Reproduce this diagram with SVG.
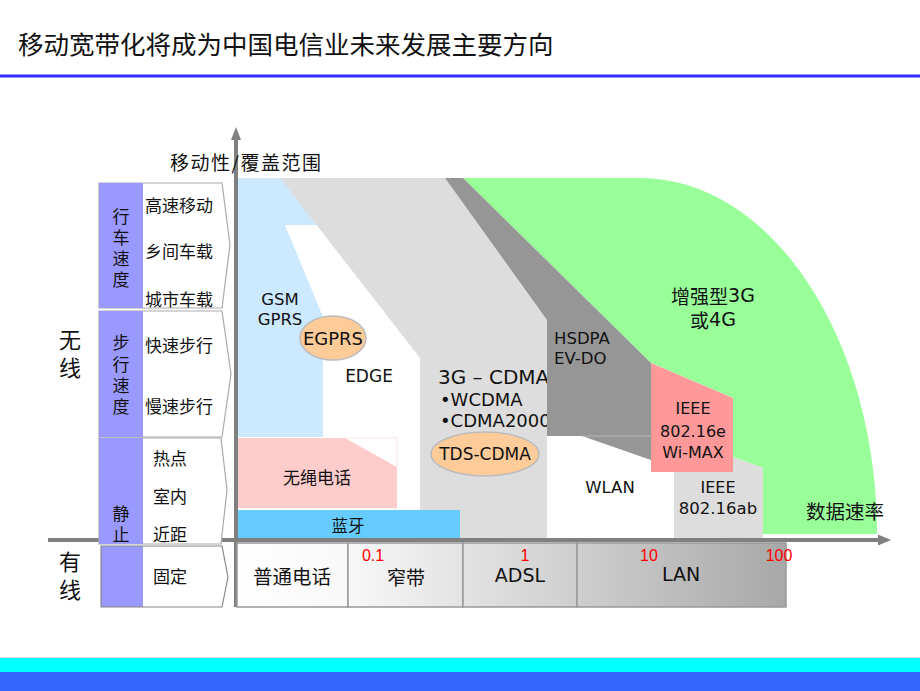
<svg xmlns="http://www.w3.org/2000/svg" width="920" height="691" viewBox="0 0 920 691">
<defs>
<style>
.cjk{font-family:"Noto Sans CJK SC","Noto Sans",sans-serif;fill:#111;dominant-baseline:central}
.vert{font-family:"Noto Sans CJK SC","Noto Sans",sans-serif;fill:#111;writing-mode:vertical-rl}
.lat{font-family:"DejaVu Sans","Liberation Sans",sans-serif;fill:#111;dominant-baseline:central}
.red{font-family:"Liberation Sans","DejaVu Sans",sans-serif;fill:#FF0000;font-size:16px;dominant-baseline:central;text-anchor:middle}
.mid{text-anchor:middle}
.row{stroke:#AAAAAA;stroke-width:1.2;fill:#FFFFFF}
.purple{fill:#9999FF}
.box{stroke:#999999;stroke-width:1.5;fill:url(#bargrad)}
.axis{stroke:#808080;stroke-width:4;fill:none}
.oval{fill:#FFCC99;stroke:#BBBBBB;stroke-width:1.5}
</style>
<linearGradient id="bargrad" gradientUnits="userSpaceOnUse" x1="237" y1="0" x2="786" y2="0">
<stop offset="0" stop-color="#FFFFFF"/>
<stop offset="0.2" stop-color="#F8F8F8"/>
<stop offset="1" stop-color="#A8A8A8"/>
</linearGradient>
</defs>
<rect width="920" height="691" fill="#FFFFFF"/>

<g id="title">
<text class="cjk" x="18" y="42" font-size="25.5">移动宽带化将成为中国电信业未来发展主要方向</text>
<line x1="0" y1="76" x2="920" y2="76" stroke="#2F2FFF" stroke-width="3"/>
</g>

<g id="footer">
<line x1="0" y1="657.5" x2="920" y2="657.5" stroke="#DDDDDD" stroke-width="1"/>
<rect x="0" y="658" width="920" height="14" fill="#00FFFF"/>
<rect x="0" y="672" width="920" height="19" fill="#3366FF"/>
</g>

<g id="axes">
<line class="axis" x1="236" y1="138" x2="236" y2="607" stroke-width="3.5"/>
<polygon points="236,127 231,140 241,140" fill="#808080"/>
<line class="axis" x1="48" y1="540" x2="880" y2="540"/>
<polygon points="891,540 878,534.5 878,545.5" fill="#808080"/>
</g>

<g id="regions">
<g id="gsm"><rect x="238" y="178" width="85" height="259" fill="#CCE9FF"/></g>
<g id="edge-area"><polygon points="285,225 318,225 420,358 420,437 323,437 323,317" fill="#FFFFFF"/></g>
<g id="cdma3g"><polygon points="280,178 445,178 547,320 547,538 420,538 420,358" fill="#DDDDDD"/></g>
<g id="cordless">
<polygon points="238,438 345,438 397,467 397,508 238,508" fill="#FFCCCC"/>
<polyline points="345,438 397,438 397,467" fill="none" stroke="#FBE3E3" stroke-width="1"/>
</g>
<g id="bluetooth"><rect x="238" y="510" width="222" height="28" fill="#66CCFF"/></g>
<g id="cdma-labels">
<text class="lat" x="438" y="377" font-size="20">3G – CDMA</text>
<text class="lat" x="440" y="399" font-size="18">•WCDMA</text>
<text class="lat" x="440" y="420" font-size="18">•CDMA2000</text>
</g>
<g id="enhanced"><path d="M463,178 L640,178 A237,356 0 0 1 877,534 L763,534 L763,468 L733,457 L733,398 L651,363 Z" fill="#99FF99"/></g>
<g id="hsdpa">
<polygon points="445,178 463,178 651,363 651,460 582,436 547,436 547,320" fill="#969696"/>
<line x1="582" y1="436" x2="651" y2="436" stroke="#B8B8B8" stroke-width="1"/>
</g>
<g id="wimax"><polygon points="651,363 733,398 733,472 651,472" fill="#FF9999"/></g>
<g id="ieee-ab"><polygon points="674,472 733,472 733,457 763,468 763,538 674,538" fill="#DDDDDD"/></g>
</g>

<g id="region-labels">
<text class="lat mid" x="280" y="299" font-size="16.5">GSM</text>
<text class="lat mid" x="280" y="319" font-size="16.5">GPRS</text>
<g id="egprs">
<ellipse class="oval" cx="333" cy="338" rx="33" ry="22"/>
<text class="lat mid" x="333" y="338" font-size="18">EGPRS</text>
</g>
<text class="lat mid" x="369" y="376" font-size="17">EDGE</text>
<g id="tds">
<ellipse class="oval" cx="485" cy="454" rx="54" ry="22"/>
<text class="lat mid" x="485" y="454" font-size="17">TDS-CDMA</text>
</g>
<text class="lat" x="554" y="338" font-size="16.5">HSDPA</text>
<text class="lat" x="554" y="358" font-size="16.5">EV-DO</text>
<text class="cjk mid" font-size="19"><tspan x="713" y="295">增强型<tspan class="lat">3G</tspan></tspan><tspan x="713" y="319">或<tspan class="lat">4G</tspan></tspan></text>
<text class="lat mid" x="693" y="408" font-size="16">IEEE</text>
<text class="lat mid" x="693" y="431" font-size="16">802.16e</text>
<text class="lat mid" x="693" y="452" font-size="16">Wi-MAX</text>
<text class="lat mid" x="610" y="487" font-size="16.5">WLAN</text>
<text class="lat mid" x="718" y="487" font-size="16">IEEE</text>
<text class="lat mid" x="718" y="508" font-size="16.5">802.16ab</text>
<text class="cjk" x="806" y="510" font-size="19.5">数据速率</text>
<text class="cjk mid" x="317" y="476" font-size="17">无绳电话</text>
<text class="cjk mid" x="348" y="525" font-size="16.5">蓝牙</text>
<text class="cjk" x="170" y="161" font-size="19" letter-spacing="1.5">移动性/覆盖范围</text>
</g>

<g id="speed-bar">
<g id="pots"><rect class="box" x="237" y="543" width="111" height="64"/><text class="cjk mid" x="292" y="575" font-size="19.5">普通电话</text></g>
<g id="narrow"><rect class="box" x="348" y="543" width="115" height="64"/><text class="cjk mid" x="406" y="576" font-size="19">窄带</text></g>
<g id="adsl"><rect class="box" x="463" y="543" width="114" height="64"/><text class="lat mid" x="520" y="575" font-size="19">ADSL</text></g>
<g id="lan"><rect class="box" x="577" y="543" width="209" height="64"/><text class="lat mid" x="681" y="574" font-size="19">LAN</text></g>
<text class="red" x="373" y="555">0.1</text>
<text class="red" x="525" y="555">1</text>
<text class="red" x="649" y="555">10</text>
<text class="red" x="779" y="555">100</text>
</g>

<g id="left-panel">
<text class="vert" x="70" y="329" font-size="22" letter-spacing="6">无线</text>
<text class="vert" x="70" y="551" font-size="22" letter-spacing="6">有线</text>
<g id="row-vehicle">
<polygon class="row" points="99,183 222,183 230,245 222,308 99,308"/>
<rect class="purple" x="99" y="183" width="44" height="125"/>
<text class="vert" x="121" y="208.5" font-size="17" letter-spacing="4">行车速度</text>
<text class="cjk" x="145" y="204" font-size="17">高速移动</text>
<text class="cjk" x="145" y="250" font-size="17">乡间车载</text>
<text class="cjk" x="145" y="298" font-size="17">城市车载</text>
</g>
<g id="row-walk">
<polygon class="row" points="99,311 222,311 231,374 222,437 99,437"/>
<rect class="purple" x="99" y="311" width="44" height="126"/>
<text class="vert" x="121" y="334.5" font-size="17" letter-spacing="4.3">步行速度</text>
<text class="cjk" x="145" y="344" font-size="17">快速步行</text>
<text class="cjk" x="145" y="405" font-size="17">慢速步行</text>
</g>
<g id="row-static">
<polygon class="row" points="99,438 221,438 227,490 221,544 99,544"/>
<rect class="purple" x="99" y="438" width="44" height="106"/>
<text class="vert" x="121" y="505.5" font-size="17" letter-spacing="4">静止</text>
<text class="cjk" x="153" y="457" font-size="17">热点</text>
<text class="cjk" x="153" y="495" font-size="17">室内</text>
<text class="cjk" x="153" y="533" font-size="17">近距</text>
</g>
<g id="row-fixed">
<rect class="purple" x="101" y="546" width="42" height="61"/>
<polygon points="101,546 222,546 228,577 222,607 101,607" fill="none" stroke="#888888" stroke-width="1.2"/>
<text class="cjk" x="153" y="575" font-size="17">固定</text>
</g>
</g>
</svg>
